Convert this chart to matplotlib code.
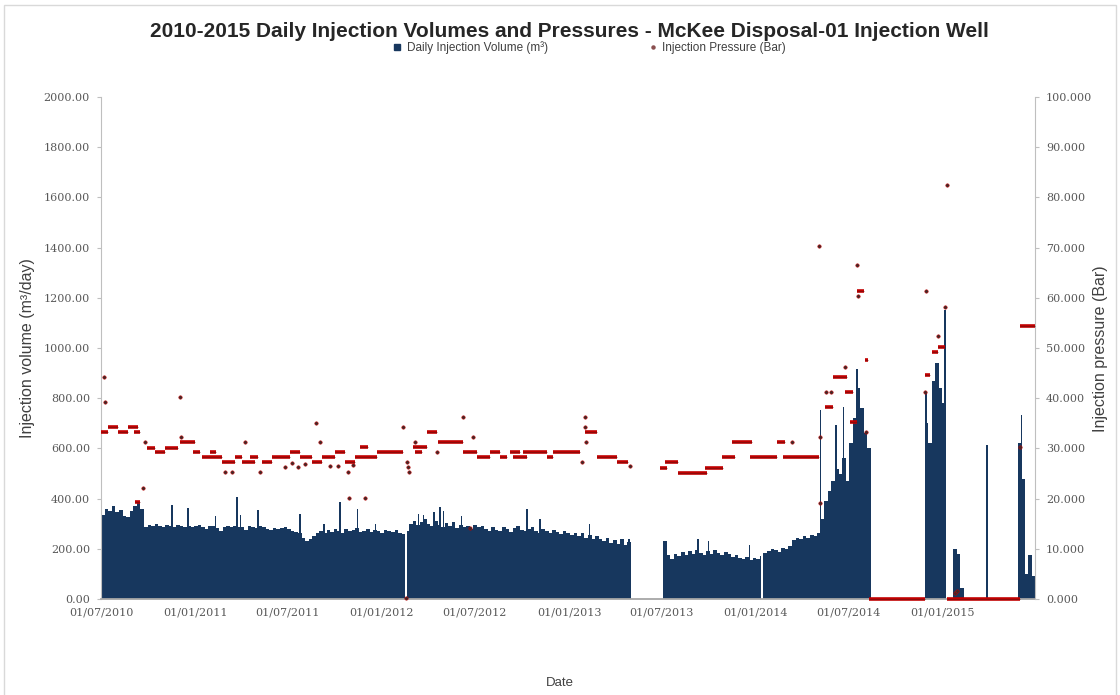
import numpy as np
import pandas as pd
import matplotlib
matplotlib.use('Agg')
import matplotlib.pyplot as plt
import matplotlib.dates as mdates
from matplotlib.lines import Line2D
from matplotlib.patches import Rectangle

# weekly injection volume (m3/day), weeks starting 01/07/2010
week_start = '2010-07-01'
weekly_volume = [
    335, 360, 350, 370, 345, 355, 330, 325, 350, 372, 385, 360,
    285, 295, 290, 300, 292, 288, 295, 290, 286, 294, 290, 288, 292, 287, 290, 295,
    285, 280, 290, 292, 284, 270, 286, 290, 288, 292, 285, 287, 275, 290, 288, 284,
    290, 286, 280, 276, 284, 278, 282, 286, 280, 272, 268, 262,
    245, 232, 238, 250, 262,
    270, 262, 275, 268, 280, 272, 265, 278, 270, 275, 282, 268, 272, 278, 266, 274,
    270, 262, 275, 270, 268, 276, 264, 258,
    270,
    300, 310, 295, 305, 318, 300, 292, 310, 296, 286, 302, 292, 305, 282, 296, 286,
    290, 280, 295, 285, 290,
    280, 272, 288, 276, 270, 285, 278, 268, 282, 290, 275, 270, 280, 286, 272, 265,
    278, 270, 262, 275, 268, 260, 270, 262, 255,
    262, 250, 265, 245, 255, 238, 250, 240, 230, 245, 225, 236, 220, 238, 215, 228,
    0, 0, 0, 0, 0, 0, 0, 0, 0,
    232, 175, 160, 180, 170, 186, 175, 190, 180, 194, 184, 175, 190, 180, 195, 184,
    174, 188, 178, 168, 174, 164, 158, 168, 155, 165, 160, 170,
    185, 190, 200, 195, 188, 205, 200, 212, 235, 245, 240, 250, 245, 256, 250, 262,
    320, 390, 430, 470, 520, 500, 560, 470, 620, 720, 840, 760, 660, 600,
    0, 0, 0, 0, 0, 0, 0, 0, 0, 0, 0, 0, 0, 0, 0,
    700, 620, 870, 940, 840, 780, 0,
    0, 200, 180, 45,
    0, 0, 0, 0, 0, 0, 0, 0, 0, 0, 0, 0, 0, 0, 0,
    620, 480, 100, 175, 90,
]

# single days that stand out above the weekly level
volume_spikes = [
    ('2010-11-17', 375), ('2010-12-18', 363), ('2011-02-10', 330), ('2011-03-24', 408),
    ('2011-03-30', 335), ('2011-05-04', 353), ('2011-07-25', 337), ('2011-09-10', 300),
    ('2011-10-11', 387), ('2011-11-15', 360), ('2011-12-20', 300), ('2012-03-12', 340),
    ('2012-03-22', 335), ('2012-04-12', 345), ('2012-04-24', 367), ('2012-04-30', 350),
    ('2012-06-05', 330), ('2012-10-11', 358), ('2012-11-05', 320), ('2013-02-10', 300),
    ('2013-04-28', 240), ('2013-09-10', 238), ('2013-09-30', 232), ('2013-12-20', 215),
    ('2014-05-07', 753), ('2014-06-07', 693), ('2014-06-21', 766), ('2014-07-18', 915),
    ('2014-11-30', 826), ('2015-01-06', 1151), ('2015-03-29', 615), ('2015-06-04', 733),
]

# days with no injection inside a running period
zero_days = ['2012-02-17', '2014-01-13']

# injection pressure (Bar) held over a run of days: start, end, level
pressure_runs = [
    ('2010-07-01', '2010-07-15', 33.2), ('2010-07-15', '2010-08-03', 34.3),
    ('2010-08-03', '2010-08-23', 33.2), ('2010-08-23', '2010-09-11', 34.3),
    ('2010-09-03', '2010-09-15', 33.2), ('2010-09-05', '2010-09-15', 19.4),
    ('2010-09-29', '2010-10-15', 30.1), ('2010-10-15', '2010-11-03', 29.3),
    ('2010-11-03', '2010-11-28', 30.1), ('2010-12-02', '2011-01-01', 31.3),
    ('2010-12-28', '2011-01-10', 29.3), ('2011-01-14', '2011-02-23', 28.3),
    ('2011-01-30', '2011-02-11', 29.3), ('2011-02-23', '2011-03-20', 27.3),
    ('2011-03-20', '2011-04-03', 28.3), ('2011-04-03', '2011-04-28', 27.3),
    ('2011-04-18', '2011-05-04', 28.3), ('2011-05-12', '2011-05-31', 27.3),
    ('2011-05-31', '2011-07-06', 28.3), ('2011-07-06', '2011-07-25', 29.3),
    ('2011-07-25', '2011-08-17', 28.3), ('2011-08-17', '2011-09-06', 27.3),
    ('2011-09-06', '2011-10-01', 28.3), ('2011-10-01', '2011-10-21', 29.3),
    ('2011-10-21', '2011-11-10', 27.3), ('2011-11-10', '2011-12-23', 28.3),
    ('2011-11-19', '2011-12-05', 30.3), ('2011-12-23', '2012-02-11', 29.3),
    ('2012-03-02', '2012-03-29', 30.3), ('2012-03-06', '2012-03-20', 29.3),
    ('2012-03-29', '2012-04-18', 33.2), ('2012-04-20', '2012-06-08', 31.3),
    ('2012-06-08', '2012-07-05', 29.3), ('2012-07-05', '2012-07-30', 28.3),
    ('2012-07-30', '2012-08-19', 29.3), ('2012-08-19', '2012-09-02', 28.3),
    ('2012-09-08', '2012-09-27', 29.3), ('2012-09-13', '2012-10-11', 28.3),
    ('2012-10-03', '2012-11-19', 29.3), ('2012-11-19', '2012-12-01', 28.3),
    ('2012-12-01', '2013-01-22', 29.3), ('2013-02-01', '2013-02-25', 33.2),
    ('2013-02-25', '2013-04-05', 28.3), ('2013-04-05', '2013-04-26', 27.3),
    ('2013-06-28', '2013-07-12', 26.1), ('2013-07-08', '2013-08-02', 27.2),
    ('2013-08-02', '2013-09-28', 25.2), ('2013-09-24', '2013-10-29', 26.1),
    ('2013-10-27', '2013-11-21', 28.2), ('2013-11-15', '2013-12-25', 31.2),
    ('2013-12-21', '2014-02-12', 28.2), ('2014-02-12', '2014-02-27', 31.2),
    ('2014-02-23', '2014-03-19', 28.2), ('2014-03-19', '2014-05-05', 28.2),
    ('2014-05-16', '2014-06-01', 38.3), ('2014-06-01', '2014-06-28', 44.3),
    ('2014-06-24', '2014-07-10', 41.3), ('2014-07-04', '2014-07-18', 35.2),
    ('2014-07-18', '2014-08-01', 61.4), ('2014-08-03', '2014-08-08', 47.7),
    ('2014-08-10', '2014-11-28', 0.0), ('2014-11-28', '2014-12-08', 44.7),
    ('2014-12-12', '2014-12-23', 49.3), ('2014-12-23', '2015-01-06', 50.3),
    ('2015-01-10', '2015-06-02', 0.0), ('2015-06-02', '2015-07-01', 54.4),
]

# isolated pressure readings (Bar)
pressure_points = [
    ('2010-07-06', 44.3), ('2010-07-08', 39.3), ('2010-09-21', 22.2), ('2010-09-25', 31.3),
    ('2010-12-02', 40.2), ('2010-12-04', 32.3), ('2011-02-28', 25.4), ('2011-03-14', 25.4),
    ('2011-04-08', 31.3), ('2011-05-08', 25.4), ('2011-06-26', 26.3), ('2011-07-09', 27.0),
    ('2011-07-21', 26.3), ('2011-08-04', 26.8), ('2011-08-25', 35.1), ('2011-09-02', 31.3),
    ('2011-09-22', 26.4), ('2011-10-07', 26.5), ('2011-10-27', 25.4), ('2011-10-29', 20.1),
    ('2011-11-06', 26.6), ('2011-11-29', 20.1), ('2012-02-11', 34.3), ('2012-02-17', 0.3),
    ('2012-02-19', 27.3), ('2012-02-21', 26.3), ('2012-02-23', 25.4), ('2012-03-06', 31.3),
    ('2012-04-18', 29.3), ('2012-06-08', 36.3), ('2012-06-21', 14.1), ('2012-06-27', 32.3),
    ('2013-01-26', 27.3), ('2013-02-01', 36.3), ('2013-02-01', 34.3), ('2013-02-03', 31.3),
    ('2013-04-30', 26.4), ('2014-03-13', 31.2), ('2014-05-05', 70.3), ('2014-05-07', 32.3),
    ('2014-05-07', 19.1), ('2014-05-18', 41.2), ('2014-05-28', 41.2), ('2014-06-24', 46.3),
    ('2014-07-18', 66.5), ('2014-07-20', 60.4), ('2014-08-05', 33.3), ('2014-11-28', 41.2),
    ('2014-11-30', 61.4), ('2014-12-23', 52.3), ('2015-01-06', 58.2), ('2015-01-10', 82.5),
    ('2015-01-26', 1.2), ('2015-01-29', 1.6), ('2015-06-02', 30.3),
]

tick_dates = ['2010-07-01', '2011-01-01', '2011-07-01', '2012-01-01', '2012-07-01',
              '2013-01-01', '2013-07-01', '2014-01-01', '2014-07-01', '2015-01-01']
x_start, x_end = '2010-07-01', '2015-07-01'

NAVY = '#17375E'
RED = '#C00000'
GREY_TXT = '#595959'
SANS = ['Liberation Sans', 'DejaVu Sans']
SERIF = ['DejaVu Serif']


def dnum(dates):
    return mdates.date2num(pd.to_datetime(dates))


fig = plt.figure(figsize=(11.2, 6.95), dpi=100)
ax = fig.add_axes([0.0902, 0.1381, 0.8339, 0.7223])

edges = dnum(pd.date_range(week_start, periods=len(weekly_volume) + 1, freq='7D'))
ax.stairs(weekly_volume, edges, fill=True, color=NAVY, linewidth=0, zorder=1)
ax.bar(dnum([d for d, v in volume_spikes]), [v for d, v in volume_spikes],
       width=2.5, color=NAVY, linewidth=0, zorder=1.5)
ax.bar(dnum(zero_days), 500, width=3, color='white', linewidth=0, zorder=2)

ax.set_xlim(dnum(x_start), dnum(x_end))
ax.set_ylim(0, 2000)
ax.set_yticks(np.arange(0, 2001, 200))
ax.set_yticklabels(['%.2f' % v for v in np.arange(0, 2001, 200)])
ax.set_xticks(dnum(tick_dates))
ax.set_xticklabels(pd.to_datetime(tick_dates).strftime('%d/%m/%Y'))

ax2 = ax.twinx()
starts = dnum([s for s, e, p in pressure_runs])
ends = dnum([e for s, e, p in pressure_runs])
levels = [p for s, e, p in pressure_runs]
ax2.hlines(levels, starts, ends, colors=RED, linewidth=2.6, zorder=3, clip_on=False)
ax2.hlines(levels, starts, ends, colors='#6b1212', linewidth=0.7, alpha=0.6, zorder=3.5, clip_on=False)
ax2.scatter(dnum([d for d, p in pressure_points]), [p for d, p in pressure_points],
            s=6, c='#3d2a2a', edgecolors=RED, linewidths=0.4, zorder=4, clip_on=False)
ax2.set_ylim(0, 100)
ax2.set_yticks(np.arange(0, 101, 10))
ax2.set_yticklabels(['%.3f' % v for v in np.arange(0, 101, 10)])

for a in (ax, ax2):
    a.spines['top'].set_visible(False)
ax.spines['right'].set_visible(False)
ax2.spines['left'].set_visible(False)
ax2.spines['bottom'].set_visible(False)
ax.spines['left'].set_color('#BFBFBF')
ax2.spines['right'].set_color('#BFBFBF')
ax.spines['bottom'].set_color('#A6A6A6')
ax.spines['bottom'].set_linewidth(1.3)

ax.tick_params(axis='y', length=3, color='#BFBFBF', labelsize=8, labelcolor=GREY_TXT, pad=5)
ax2.tick_params(axis='y', length=3, color='#BFBFBF', labelsize=8, labelcolor=GREY_TXT, pad=5)
ax.tick_params(axis='x', length=0, labelsize=8, labelcolor=GREY_TXT, pad=6)
for lab in ax.get_xticklabels() + ax.get_yticklabels() + ax2.get_yticklabels():
    lab.set_fontfamily(SERIF)

fig.text(0.508, 0.955, '2010-2015 Daily Injection Volumes and Pressures - McKee Disposal-01 Injection Well',
         ha='center', va='center', fontsize=15, fontweight='bold', family=SANS, color='#262626')
fig.text(0.025, 0.499, 'Injection volume (m³/day)', rotation=90, ha='center', va='center',
         fontsize=11.5, family=SANS, color='#404040')
fig.text(0.983, 0.499, 'Injection pressure (Bar)', rotation=90, ha='center', va='center',
         fontsize=11.5, family=SANS, color='#404040')
fig.text(0.5, 0.017, 'Date', ha='center', va='center', fontsize=9.5, family=SANS, color='#404040')

handles = [Line2D([], [], marker='s', linestyle='none', color=NAVY, markersize=5),
           Line2D([], [], marker='o', linestyle='none', color='#8a5050', markersize=2.2)]
fig.legend(handles, ['Daily Injection Volume (m³)', 'Injection Pressure (Bar)'],
           loc='center', bbox_to_anchor=(0.526, 0.932), ncol=2, frameon=False,
           columnspacing=8.5, handlelength=0.8, handletextpad=0.4,
           prop={'family': SANS, 'size': 8.5}, labelcolor='#404040')

fig.patches.append(Rectangle((0.004, -0.01), 0.992, 1.003, transform=fig.transFigure,
                             fill=False, edgecolor='#D9D9D9', linewidth=1))

fig.savefig('out.png', dpi=100)
